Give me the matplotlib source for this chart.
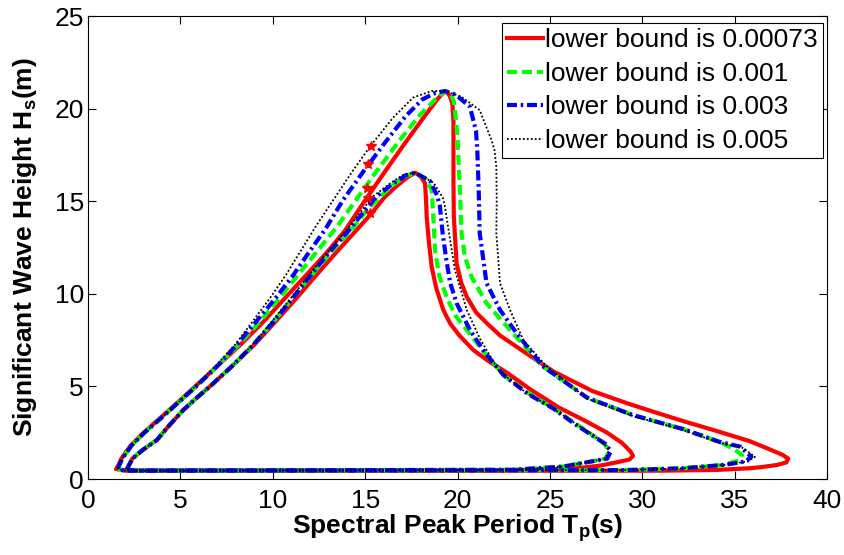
import numpy as np
import matplotlib
matplotlib.use("Agg")
import matplotlib.pyplot as plt

plt.rcParams['font.family'] = ['Liberation Sans', 'DejaVu Sans']
plt.rcParams['mathtext.fontset'] = 'custom'
plt.rcParams['mathtext.rm'] = 'Liberation Sans:bold'
plt.rcParams['mathtext.it'] = 'Liberation Sans:bold'

# contour points (Tp [s], Hs [m]), outer and inner loop for each lower bound
out_00073 = [(1.55, 0.55), (1.8, 1.1), (2.3, 1.8), (3.0, 2.5), (3.8, 3.2), (4.7, 4.0), (5.8, 5.0),
             (7.0, 6.1), (8.3, 7.3), (9.5, 8.5), (10.6, 9.7), (11.8, 11.0), (12.9, 12.2), (13.9, 13.4),
             (14.9, 14.9), (16.0, 16.5), (17.2, 18.2), (18.3, 19.7), (18.9, 20.5), (19.32, 20.95),
             (19.55, 20.75), (19.72, 20.3), (19.78, 19.3), (19.78, 17.76), (19.78, 16.0), (19.8, 14.16),
             (19.95, 11.65), (20.2, 10.6), (20.5, 9.84), (21.0, 9.0), (21.6, 8.4), (22.3, 7.75),
             (23.2, 7.14), (25.2, 5.8), (27.3, 4.75), (29.15, 4.1), (30.7, 3.6), (32.3, 3.1), (34.0, 2.6),
             (35.8, 2.05), (36.9, 1.6), (37.6, 1.3), (37.9, 1.1), (37.8, 0.9), (37.3, 0.76), (36.5, 0.65),
             (35.8, 0.58), (34.0, 0.49), (31.0, 0.45), (2.0, 0.45), (1.55, 0.55)]
in_00073 = [(2.09, 0.52), (2.4, 1.1), (3.0, 1.6), (3.72, 2.1), (4.4, 2.9), (5.16, 3.73), (5.9, 4.4),
            (6.6, 5.0), (7.8, 6.1), (9.0, 7.25), (10.1, 8.45), (11.2, 9.67), (12.3, 10.95), (13.4, 12.2),
            (14.45, 13.35), (15.35, 14.35), (16.07, 15.24), (16.8, 15.9), (17.3, 16.3), (17.7, 16.54),
            (18.0, 16.35), (18.24, 15.97), (18.3, 15.0), (18.33, 14.16), (18.45, 12.8), (18.6, 11.46),
            (18.85, 10.3), (19.23, 9.13), (19.6, 8.4), (20.1, 7.75), (20.85, 6.97), (21.7, 6.35),
            (22.66, 5.75), (24.0, 4.8), (25.5, 3.85), (26.8, 3.2), (28.1, 2.5), (28.9, 1.95), (29.35, 1.5),
            (29.5, 1.25), (29.3, 1.05), (28.6, 0.9), (27.7, 0.72), (26.8, 0.62), (25.0, 0.52), (22.0, 0.45),
            (2.5, 0.45), (2.09, 0.52)]

out_0001 = [(1.6, 0.55), (1.85, 1.1), (2.35, 1.8), (3.05, 2.5), (3.85, 3.2), (4.75, 4.0), (5.85, 5.0),
            (7.0, 6.1), (8.2, 7.3), (9.3, 8.5), (10.3, 9.7), (11.35, 11.0), (12.4, 12.3), (13.46, 13.6),
            (14.5, 15.06), (15.6, 16.6), (16.8, 18.2), (18.0, 19.7), (18.8, 20.5), (19.32, 20.95),
            (19.6, 20.8), (19.8, 20.4), (19.99, 18.67), (20.06, 17.0), (20.13, 15.6), (20.22, 13.27),
            (20.4, 12.0), (20.76, 10.92), (21.57, 9.49), (22.84, 8.05), (24.6, 6.1), (27.0, 4.4),
            (29.5, 3.45), (32.2, 2.7), (34.2, 2.0), (34.9, 1.65), (35.4, 1.3), (35.2, 1.0), (34.4, 0.76),
            (32.2, 0.58), (29.0, 0.48), (2.0, 0.45), (1.6, 0.55)]
in_0001 = [(2.1, 0.52), (2.4, 1.1), (3.0, 1.6), (3.72, 2.1), (4.4, 2.9), (5.16, 3.73), (5.9, 4.4),
           (6.6, 5.0), (7.8, 6.1), (8.95, 7.25), (10.0, 8.45), (11.0, 9.67), (12.1, 11.0), (13.2, 12.3),
           (14.2, 13.4), (15.0, 14.4), (15.8, 15.24), (16.6, 15.95), (17.2, 16.35), (17.7, 16.54),
           (18.3, 16.2), (18.6, 15.6), (18.7, 14.0), (18.78, 12.37), (19.0, 11.0), (19.4, 9.84),
           (19.9, 8.8), (20.5, 8.05), (21.4, 6.9), (22.5, 5.6), (23.8, 4.65), (25.2, 3.82), (26.3, 3.05),
           (27.3, 2.37), (28.0, 1.85), (28.2, 1.5), (28.0, 1.1), (27.2, 0.94), (25.7, 0.67), (23.0, 0.5),
           (2.5, 0.45), (2.1, 0.52)]

out_0003 = [(1.6, 0.55), (1.85, 1.1), (2.35, 1.8), (3.05, 2.5), (3.85, 3.2), (4.75, 4.0), (5.85, 5.0),
            (7.0, 6.1), (8.1, 7.3), (9.1, 8.5), (10.1, 9.7), (11.1, 11.0), (12.0, 12.3), (12.85, 13.5),
            (13.8, 15.06), (14.9, 16.6), (16.1, 18.2), (17.2, 19.6), (18.1, 20.5), (18.8, 20.85),
            (19.32, 20.95), (19.9, 20.75), (20.67, 20.1), (21.0, 18.8), (21.07, 17.76), (21.15, 15.5),
            (21.2, 13.27), (21.57, 10.57), (22.3, 9.13), (23.2, 7.87), (24.6, 6.1), (27.0, 4.4),
            (29.5, 3.45), (32.2, 2.7), (34.2, 2.0), (35.3, 1.75), (35.9, 1.2), (35.6, 0.95), (34.4, 0.76),
            (32.2, 0.58), (29.0, 0.48), (2.0, 0.45), (1.6, 0.55)]
in_0003 = [(2.1, 0.52), (2.4, 1.1), (3.0, 1.6), (3.72, 2.1), (4.4, 2.9), (5.16, 3.73), (5.9, 4.4),
           (6.6, 5.0), (7.8, 6.1), (8.95, 7.25), (10.0, 8.45), (11.0, 9.67), (12.05, 11.0), (13.1, 12.3),
           (14.1, 13.4), (14.9, 14.4), (15.6, 15.24), (16.5, 15.95), (17.2, 16.4), (17.7, 16.54),
           (18.5, 16.1), (18.9, 15.3), (19.05, 14.7), (19.2, 13.2), (19.4, 11.8), (19.6, 10.6),
           (19.95, 9.49), (20.67, 8.05), (21.5, 6.8), (22.5, 5.6), (23.8, 4.6), (25.2, 3.8), (26.3, 3.0),
           (27.3, 2.35), (28.0, 1.9), (28.3, 1.5), (28.1, 1.1), (27.2, 0.94), (25.7, 0.67), (23.0, 0.5),
           (2.5, 0.45), (2.1, 0.52)]

out_0005 = [(1.6, 0.55), (1.85, 1.1), (2.35, 1.8), (3.05, 2.5), (3.85, 3.2), (4.75, 4.0), (5.8, 5.0),
            (6.9, 6.1), (8.0, 7.3), (8.9, 8.5), (9.8, 9.7), (10.7, 11.0), (11.5, 12.3), (12.3, 13.6),
            (13.27, 15.06), (14.3, 16.6), (15.3, 18.0), (16.5, 19.5), (17.6, 20.6), (18.6, 20.95),
            (19.32, 20.95), (20.2, 20.65), (21.2, 19.92), (21.84, 18.3), (22.0, 17.76), (22.1, 16.86),
            (22.12, 15.0), (22.1, 13.27), (22.3, 10.57), (22.84, 9.13), (23.56, 7.5), (24.8, 6.1),
            (27.0, 4.35), (29.5, 3.4), (32.2, 2.65), (34.2, 1.95), (35.4, 1.7), (36.1, 1.2), (35.7, 0.95),
            (34.4, 0.76), (32.2, 0.58), (29.0, 0.48), (2.0, 0.45), (1.6, 0.55)]
in_0005 = [(2.1, 0.52), (2.4, 1.1), (3.0, 1.6), (3.72, 2.1), (4.4, 2.9), (5.16, 3.73), (5.9, 4.4),
           (6.6, 5.0), (7.8, 6.1), (8.9, 7.25), (9.9, 8.45), (10.9, 9.67), (11.95, 11.0), (13.0, 12.3),
           (13.95, 13.4), (14.75, 14.4), (15.4, 15.24), (16.4, 16.0), (17.1, 16.45), (17.7, 16.54),
           (18.7, 16.0), (19.2, 15.2), (19.32, 14.7), (19.6, 12.9), (19.86, 11.28), (20.5, 9.13),
           (21.2, 7.6), (22.2, 5.9), (23.6, 4.75), (25.1, 3.85), (26.3, 3.05), (27.3, 2.4), (27.9, 1.95),
           (28.2, 1.55), (28.0, 1.1), (27.2, 0.94), (25.7, 0.67), (23.0, 0.5), (2.5, 0.45), (2.1, 0.52)]

star_tp = [15.31, 15.17, 15.08, 15.17, 15.26]
star_hs = [17.98, 17.0, 15.7, 15.16, 14.35]

labels = ["lower bound is 0.00073", "lower bound is 0.001",
          "lower bound is 0.003", "lower bound is 0.005"]

styles = [dict(color=(1, 0, 0), lw=3.0, ls='-'),
          dict(color=(0, 1, 0), lw=3.0, ls=(0, (2.4, 1.2))),
          dict(color=(0, 0, 1), lw=3.0, ls=(0, (2.4, 0.9, 0.6, 0.9))),
          dict(color='k', lw=1.3, ls=(0, (1, 1.2)))]

loops = [(out_00073, in_00073), (out_0001, in_0001), (out_0003, in_0003), (out_0005, in_0005)]

fs = 19

fig = plt.figure(figsize=(8.44, 5.55), dpi=100)
ax = fig.add_axes([0.1043, 0.1369, 0.8756, 0.8342])

for (outer, inner), lab, st in zip(loops, labels, styles):
    o = np.array(outer)
    i = np.array(inner)
    ax.plot(o[:, 0], o[:, 1], label=lab, **st)
    ax.plot(i[:, 0], i[:, 1], **st)

ax.plot(star_tp, star_hs, '*', color='r', ms=7, mew=1)

ax.set_xlim(0, 40)
ax.set_ylim(0, 25)
ax.set_xticks(np.arange(0, 41, 5))
ax.set_yticks(np.arange(0, 26, 5))
ax.tick_params(direction='in', top=True, right=True, length=6, width=0.8, labelsize=fs)
ax.tick_params(axis='x', pad=7)
ax.tick_params(axis='y', pad=3)

ax.set_xlabel('Spectral Peak Period T$_{\\mathrm{p}}$(s)', fontsize=fs, fontweight='bold', labelpad=0)
ax.set_ylabel('Significant Wave Height H$_{\\mathrm{s}}$(m)', fontsize=fs, fontweight='bold', labelpad=11)

leg = ax.legend(loc='upper right', bbox_to_anchor=(0.9946, 0.9849), borderaxespad=0,
                fontsize=fs, fancybox=False, framealpha=1, edgecolor='k',
                handlelength=1.35, handletextpad=0.1, borderpad=0.2, labelspacing=0.36)
leg.get_frame().set_linewidth(0.8)

plt.savefig("out.png", dpi=100)
